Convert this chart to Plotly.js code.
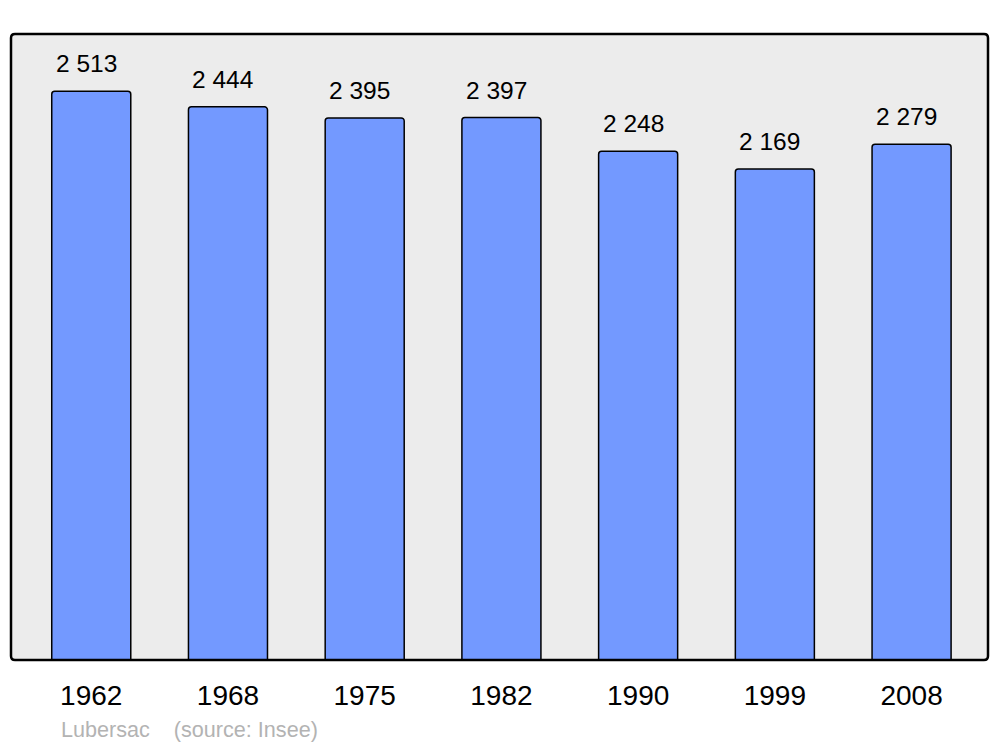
<!DOCTYPE html>
<html>
<head>
<meta charset="utf-8">
<script src="https://cdn.plot.ly/plotly-3.0.1.min.js"></script>
<style>html,body{margin:0;padding:0;background:#fff;}#chart{width:1000px;height:747px;}</style>
</head>
<body>
<div id="chart"></div>
<script>
const years = ["1962", "1968", "1975", "1982", "1990", "1999", "2008"];
const population = [2513, 2444, 2395, 2397, 2248, 2169, 2279];
const valueLabels = ["2 513", "2 444", "2 395", "2 397", "2 248", "2 169", "2 279"];
const caption = "Lubersac\u00A0\u00A0\u00A0\u00A0(source: Insee)";

const FONT = "Liberation Sans, Arial, sans-serif";

const trace = {
  type: "bar",
  x: years,
  y: population,
  width: 0.578,
  marker: {
    color: "#7399ff",
    line: {color: "#000000", width: 1.5},
    cornerradius: 3
  },
  hoverinfo: "skip"
};

const annotations = years.map((yr, i) => ({
  x: i, y: population[i], xref: "x", yref: "y",
  text: valueLabels[i], showarrow: false,
  xanchor: "center", yanchor: "bottom",
  xshift: -5, yshift: 12,
  font: {family: FONT, size: 24.5, color: "#000000"}
}));
annotations.push({
  xref: "paper", yref: "paper", x: (59.5 - 11) / 977.5, y: (660 - 730) / 626.5,
  xanchor: "left", yanchor: "middle",
  text: caption, showarrow: false,
  font: {family: FONT, size: 21.6, color: "#b3b3b3"}
});

const r = 4;
const W = 977.5, H = 626.5;
const rx = r / W, ry = r / H;
const framePath = `M ${rx},0 L ${1 - rx},0 Q 1,0 1,${ry} L 1,${1 - ry} Q 1,1 ${1 - rx},1 L ${rx},1 Q 0,1 0,${1 - ry} L 0,${ry} Q 0,0 ${rx},0 Z`;

const layout = {
  width: 1000, height: 747,
  margin: {l: 11, r: 11.5, t: 33.5, b: 87},
  paper_bgcolor: "#ffffff",
  plot_bgcolor: "#ececec",
  showlegend: false,
  xaxis: {
    type: "category",
    range: [-0.587, 6.559],
    showgrid: false, zeroline: false, showline: false,
    ticks: "",
    ticklabelstandoff: 16,
    tickfont: {family: FONT, size: 28, color: "#000000"},
    fixedrange: true
  },
  yaxis: {
    range: [0, 2766],
    showgrid: false, zeroline: false, showline: false,
    showticklabels: false, ticks: "",
    fixedrange: true
  },
  shapes: [{
    type: "path", xref: "paper", yref: "paper",
    path: framePath,
    line: {color: "#000000", width: 2.5},
    fillcolor: "rgba(0,0,0,0)",
    layer: "above"
  }],
  annotations: annotations
};

Plotly.newPlot("chart", [trace], layout, {displayModeBar: false, staticPlot: true});
</script>
</body>
</html>
